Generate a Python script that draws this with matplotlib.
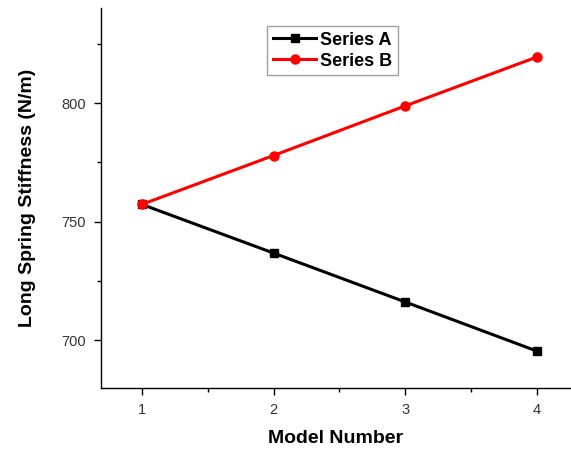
import matplotlib
matplotlib.use("Agg")
import matplotlib.pyplot as plt
from matplotlib.ticker import MultipleLocator

# Data
model_number = [1, 2, 3, 4]
series_a = [757.3, 736.8, 716.2, 695.5]
series_b = [757.3, 777.9, 798.8, 819.4]

plt.rcParams['font.family'] = ['Liberation Sans', 'DejaVu Sans']

fig = plt.figure(figsize=(5.71, 4.5), dpi=100)
ax = fig.add_axes([0.177, 0.138, 0.821, 0.844])

ax.plot(model_number, series_a, color='black', lw=2.2, marker='s', ms=6, label='Series A')
ax.plot(model_number, series_b, color='red', lw=2.2, marker='o', ms=6.5, label='Series B')

ax.set_xlim(0.69, 4.25)
ax.set_ylim(680, 840)
ax.xaxis.set_major_locator(MultipleLocator(1))
ax.xaxis.set_minor_locator(MultipleLocator(0.5))
ax.yaxis.set_major_locator(MultipleLocator(50))
ax.yaxis.set_minor_locator(MultipleLocator(25))

ax.spines['top'].set_visible(False)
ax.spines['right'].set_visible(False)
for s in ['left', 'bottom']:
    ax.spines[s].set_linewidth(1.0)
ax.tick_params(which='major', direction='out', length=5, width=1, labelsize=10.5,
               labelcolor='#333333', pad=6)
ax.tick_params(which='minor', direction='out', length=3, width=1)

ax.set_xlabel('Model Number', fontsize=14, fontweight='bold', labelpad=9)
ax.set_ylabel('Long Spring Stiffness (N/m)', fontsize=14, fontweight='bold', labelpad=18)

leg = ax.legend(loc='upper left', bbox_to_anchor=(0.335, 0.977), fancybox=False,
                edgecolor='#888888', prop={'weight': 'bold', 'size': 13},
                handlelength=2.4, handletextpad=0.2, borderpad=0.32, labelspacing=0.22)
leg.get_frame().set_linewidth(1.0)

fig.savefig('out.png', dpi=100)
